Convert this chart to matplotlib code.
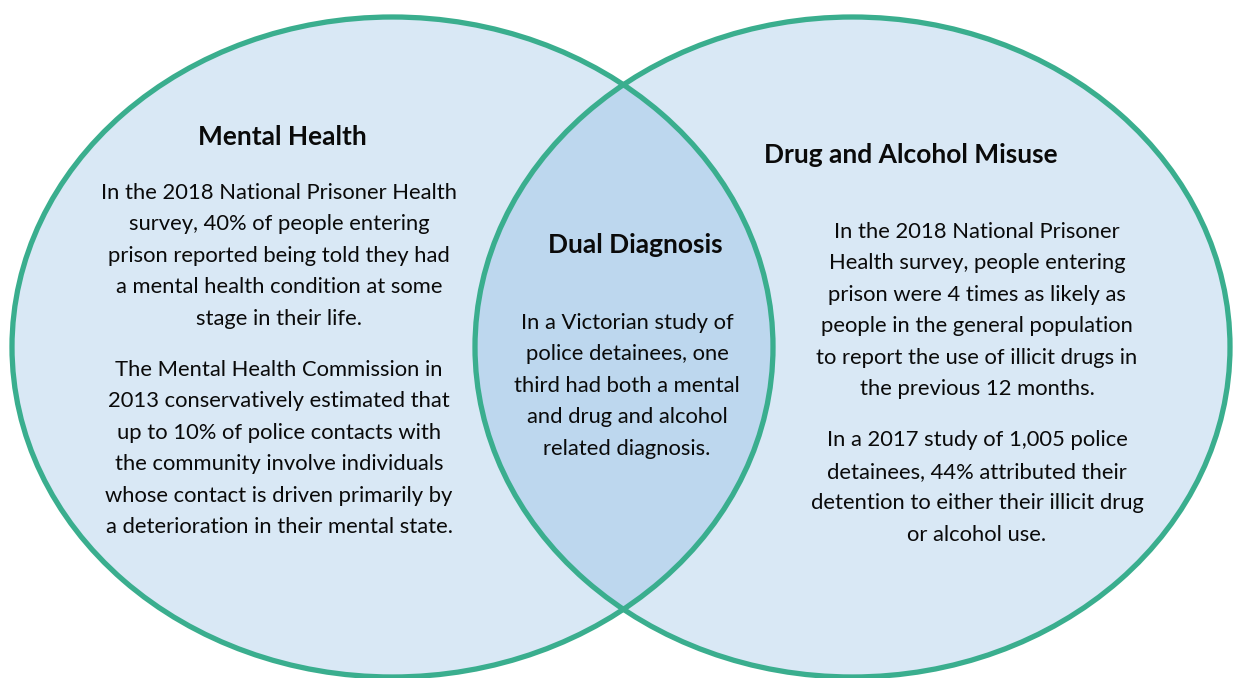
import matplotlib.pyplot as plt
from matplotlib.patches import Ellipse

# Venn sets (centre x, centre y, width, height in picture pixels)
circle_names = ["Mental Health", "Drug and Alcohol Misuse"]
circle_centres = [(392.5, 347), (852.5, 347)]
circle_sizes = [(761, 660), (755, 660)]
overlap_name = "Dual Diagnosis"

mental_text = [
    ["In the 2018 National Prisoner Health",
     "survey, 40% of people entering",
     "prison reported being told they had",
     "a mental health condition at some",
     "stage in their life."],
    ["The Mental Health Commission in",
     "2013 conservatively estimated that",
     "up to 10% of police contacts with",
     "the community involve individuals",
     "whose contact is driven primarily by",
     "a deterioration in their mental state."],
]
dual_text = [
    ["In a Victorian study of",
     "police detainees, one",
     "third had both a mental",
     "and drug and alcohol",
     "related diagnosis."],
]
drug_text = [
    ["In the 2018 National Prisoner",
     "Health survey, people entering",
     "prison were 4 times as likely as",
     "people in the general population",
     "to report the use of illicit drugs in",
     "the previous 12 months."],
    ["In a 2017 study of 1,005 police",
     "detainees, 44% attributed their",
     "detention to either their illicit drug",
     "or alcohol use."],
]

fill = "#d9e8f5"
lens_fill = "#bdd7ee"
edge = "#3aae8e"
font = "Lato"
ink = "#0a0a0a"

fig = plt.figure(figsize=(12.34, 6.78), dpi=100)
ax = fig.add_axes([0, 0, 1, 1])
ax.set_xlim(0, 1234)
ax.set_ylim(678, 0)
ax.axis("off")

# fills
patches = []
for (cx, cy), (w, h) in zip(circle_centres, circle_sizes):
    e = Ellipse((cx, cy), w, h, facecolor=fill, edgecolor="none", zorder=1)
    ax.add_patch(e)
    patches.append(e)

# overlap
lens = Ellipse(circle_centres[1], *circle_sizes[1], facecolor=lens_fill,
               edgecolor="none", zorder=2)
ax.add_patch(lens)
lens.set_clip_path(patches[0])

# outlines
for (cx, cy), (w, h) in zip(circle_centres, circle_sizes):
    ax.add_patch(Ellipse((cx, cy), w, h, facecolor="none", edgecolor=edge,
                         linewidth=3.8, zorder=3))

# headings
heading_kw = dict(ha="center", va="center", fontsize=19, fontweight="bold",
                  family=font, color=ink)
ax.text(282, 137, circle_names[0], **heading_kw)
ax.text(911, 155, circle_names[1], **heading_kw)
ax.text(635, 245, overlap_name, **heading_kw)


def draw_block(paragraphs, x, y0, step=31.4, gap=20):
    y = y0
    for para in paragraphs:
        for line in para:
            ax.text(x, y, line, ha="center", va="center", fontsize=15.8,
                    family=font, color=ink)
            y += step
        y += gap


draw_block(mental_text, 279, 193)
draw_block(dual_text, 627, 323)
draw_block(drug_text, 977, 232)

fig.savefig("out.png", dpi=100, facecolor="white")
